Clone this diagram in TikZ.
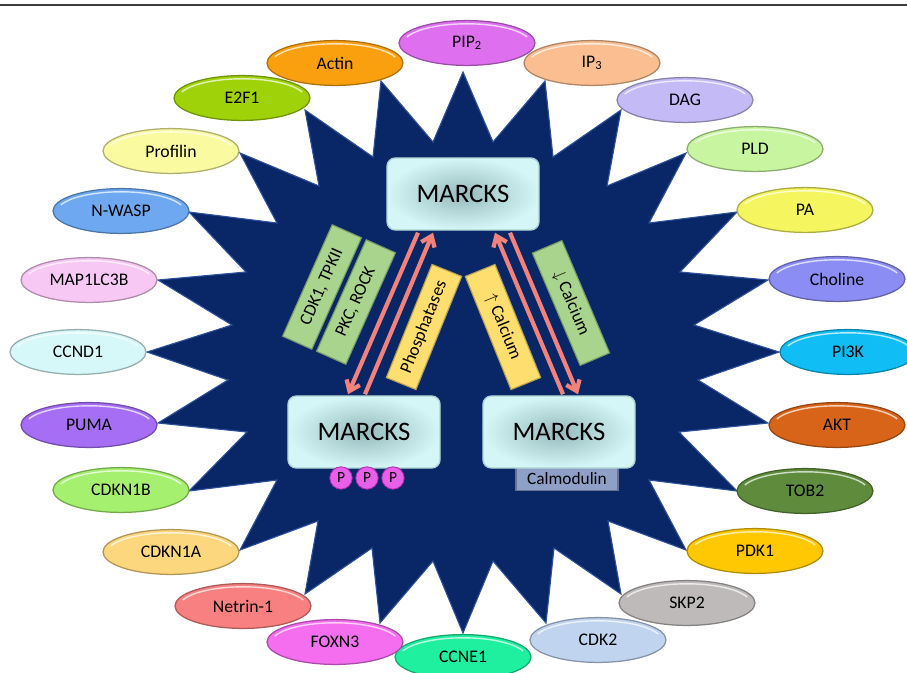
\documentclass[tikz,border=0pt]{standalone}
\usepackage{fontspec}
\setmainfont{Carlito}
\usepackage{xcolor}
\usepackage{tikz}
\usetikzlibrary{shapes,arrows,positioning,calc,arrows.meta}

\definecolor{starblue}{RGB}{9,38,102}
\definecolor{staredge}{RGB}{45,80,155}
\definecolor{rulegray}{RGB}{60,60,60}
\definecolor{boxmid}{RGB}{150,186,188}
\definecolor{boxout}{RGB}{212,246,246}
\definecolor{boxedge}{RGB}{175,210,210}
\definecolor{arrowred}{RGB}{242,130,122}
\definecolor{lgreen}{RGB}{169,212,142}
\definecolor{lyellow}{RGB}{255,222,112}
\definecolor{calm}{RGB}{143,160,200}
\definecolor{phosfill}{RGB}{232,96,232}
\definecolor{phosedge}{RGB}{175,40,175}
\definecolor{cactin}{RGB}{250,160,15}
\definecolor{cpip}{RGB}{222,112,240}
\definecolor{cip}{RGB}{250,190,145}
\definecolor{cdag}{RGB}{196,186,245}
\definecolor{ceef}{RGB}{160,210,10}
\definecolor{cprof}{RGB}{250,250,160}
\definecolor{cpld}{RGB}{200,245,160}
\definecolor{cnwasp}{RGB}{110,168,240}
\definecolor{cpa}{RGB}{245,245,95}
\definecolor{cmap}{RGB}{248,200,245}
\definecolor{ccho}{RGB}{140,140,245}
\definecolor{cccnd}{RGB}{215,248,248}
\definecolor{cpik}{RGB}{16,190,245}
\definecolor{cpuma}{RGB}{165,110,245}
\definecolor{cakt}{RGB}{215,100,25}
\definecolor{ckipb}{RGB}{165,240,110}
\definecolor{ctob}{RGB}{95,140,60}
\definecolor{ckipa}{RGB}{253,215,125}
\definecolor{cpdk}{RGB}{255,200,0}
\definecolor{cnet}{RGB}{248,128,128}
\definecolor{cskp}{RGB}{190,186,186}
\definecolor{cfox}{RGB}{245,110,240}
\definecolor{ccdk}{RGB}{192,212,240}
\definecolor{cccne}{RGB}{30,240,160}

\begin{document}
\begin{tikzpicture}[x=0.025cm, y=-0.025cm,
    gloss/.style={path picture={
        \path (path picture bounding box.center) coordinate (pc);
        \draw[white, opacity=0.7, line width=1pt] ([shift={(-1.5035cm,0.151cm)}]pc)
            arc[start angle=160, end angle=20, x radius=1.6cm, y radius=0.5cm];}},
    bubble/.style={ellipse, draw=#1!70!black, fill=#1, line width=0.9pt, gloss,
        minimum width=3.4cm, minimum height=1.12cm, inner sep=0pt,
        font=\fontsize{12.6}{14}\selectfont},
    marcks/.style={rectangle, rounded corners=6pt, draw=boxedge, line width=1pt,
        inner color=boxmid, outer color=boxout,
        minimum width=3.8cm, minimum height=1.8cm, font=\fontsize{19}{22}\selectfont},
    cbox/.style={rectangle, draw=#1!72!black, fill=#1, line width=0.8pt,
        minimum width=3.05cm, minimum height=0.8cm, inner sep=1pt,
        font=\fontsize{12.5}{14}\selectfont},
    phos/.style={circle, draw=phosedge, fill=phosfill, line width=0.6pt,
        minimum size=0.56cm, inner sep=0pt, font=\fontsize{11}{12}\selectfont},
    flow/.style={draw=arrowred, line width=3pt,
        -{Straight Barb[length=2.4mm,width=3.6mm]}}
]
    \useasboundingbox (0,0) rectangle (907,672);

    % top rule
    \draw[rulegray, line width=1.5pt] (0,5) -- (907,5);

    % star
    \fill[starblue, draw=staredge, line width=0.8pt]
        (463,72) -- (493,142) -- (545,81) -- (553,157) -- (621,110) -- (607,186)
        -- (686,153) -- (649,223) -- (737,212) -- (680,272) -- (768,280) -- (694,325)
        -- (779,352) -- (698,380) -- (768,423) -- (679,432) -- (737,491) -- (649,480)
        -- (686,550) -- (608,521) -- (621,594) -- (554,548) -- (546,623) -- (493,561)
        -- (463,633) -- (433,561) -- (380,623) -- (372,548) -- (305,594) -- (318,521)
        -- (240,550) -- (277,480) -- (189,491) -- (247,432) -- (158,423) -- (228,380)
        -- (147,352) -- (232,325) -- (158,280) -- (246,272) -- (189,212) -- (277,223)
        -- (240,153) -- (319,186) -- (305,110) -- (373,157) -- (381,81) -- (433,142)
        -- cycle;

    % outer ring
    \node[bubble=cactin] (actin) at (335,63) {Actin};
    \node[bubble=cpip] (pip) at (467,43) {PIP\textsubscript{2}};
    \node[bubble=cip] (ip) at (592,63) {IP\textsubscript{3}};
    \node[bubble=cdag] (dag) at (685,100) {DAG};
    \node[bubble=ceef] (eef) at (242,98) {E2F1};
    \node[bubble=cprof] (prof) at (171,151) {Profilin};
    \node[bubble=cpld] (pld) at (755,149) {PLD};
    \node[bubble=cnwasp] (nwasp) at (121,211) {N-WASP};
    \node[bubble=cpa] (pa) at (805,210) {PA};
    \node[bubble=cmap] (map) at (89,280) {MAP1LC3B};
    \node[bubble=ccho] (cho) at (837,279) {Choline};
    \node[bubble=cccnd] (ccnd) at (78,352) {CCND1};
    \node[bubble=cpik] (pik) at (848,352) {PI3K};
    \node[bubble=cpuma] (puma) at (89,425) {PUMA};
    \node[bubble=cakt] (akt) at (837,425) {AKT};
    \node[bubble=ckipb] (kipb) at (121,490) {CDKN1B};
    \node[bubble=ctob] (tob) at (805,491) {TOB2};
    \node[bubble=ckipa] (kipa) at (171,552) {CDKN1A};
    \node[bubble=cpdk] (pdk) at (755,551) {PDK1};
    \node[bubble=cnet] (net) at (243,606) {Netrin-1};
    \node[bubble=cskp] (skp) at (687,603) {SKP2};
    \node[bubble=cccne] (ccne) at (463,657) {CCNE1};
    \node[bubble=cfox] (fox) at (335,642) {FOXN3};
    \node[bubble=ccdk] (cdk) at (598,640) {CDK2};

    % MARCKS states
    \node[cbox=calm, minimum width=2.55cm, minimum height=0.58cm, inner sep=0pt,
        font=\fontsize{12.3}{14}\selectfont] (calmod) at (567,479) {Calmodulin};
    \node[marcks] (mtop) at (463,194) {MARCKS};
    \node[marcks] (mleft) at (364,432) {MARCKS};
    \node[marcks] (mright) at (559,432) {MARCKS};
    \node[phos] (p1) at (341,478) {P};
    \node[phos] (p2) at (367,478) {P};
    \node[phos] (p3) at (393,478) {P};

    % regulators
    \node[cbox=lgreen, rotate=66] (kin) at (322,287) {CDK1, TPKII};
    \node[cbox=lgreen, rotate=66] (pkc) at (356,302) {PKC, ROCK};
    \node[cbox=lyellow, rotate=68] (phosph) at (424,327) {Phosphatases};
    \node[cbox=lyellow, rotate=-68] (caup) at (503,327) {$\uparrow$ Calcium};
    \node[cbox=lgreen, rotate=-67] (cadown) at (571,303) {$\downarrow$ Calcium};

    % transitions
    \draw[flow] ($(mtop.south)+(-45,2)$) -- ($(mleft.north)+(-16,-1)$);
    \draw[flow] ($(mleft.north)+(1,-1)$) -- ($(mtop.south)+(-30,2)$);
    \draw[flow] ($(mright.north)+(4,-1)$) -- ($(mtop.south)+(32,2)$);
    \draw[flow] ($(mtop.south)+(47,2)$) -- ($(mright.north)+(19,-1)$);
\end{tikzpicture}
\end{document}
